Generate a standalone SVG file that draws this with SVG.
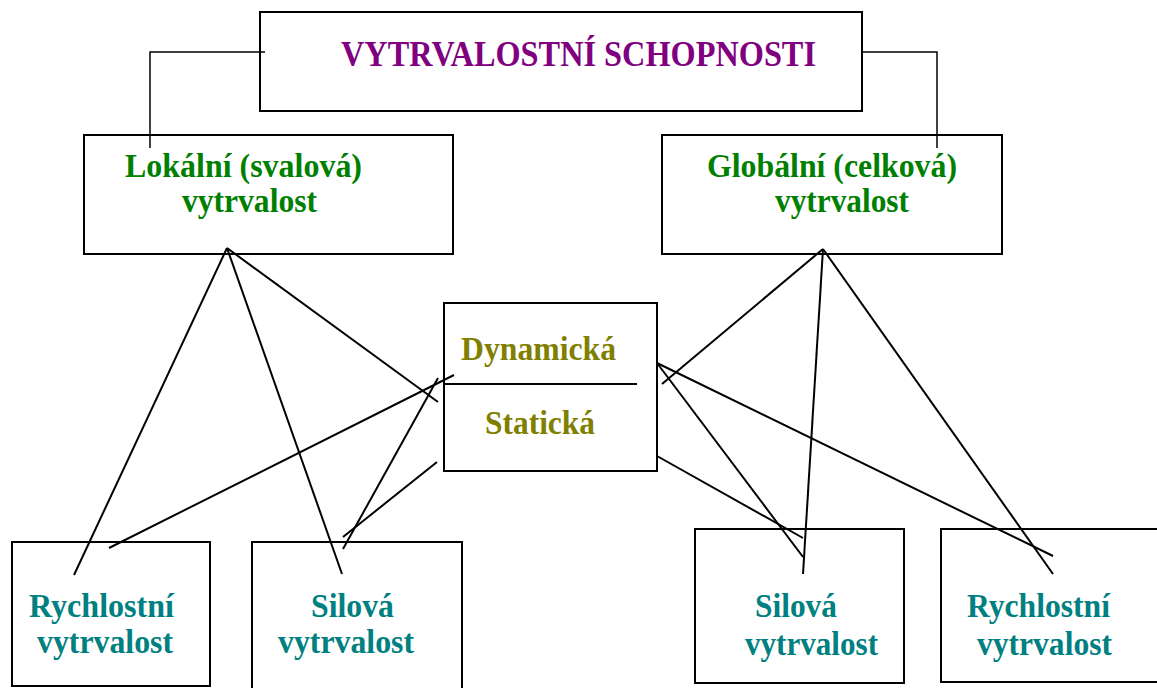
<svg xmlns="http://www.w3.org/2000/svg" width="1157" height="688" viewBox="0 0 1157 688">
<style>
.box{fill:#fff;stroke:#000;stroke-width:2}
.t{font-family:"Liberation Serif","Times New Roman",serif;font-weight:bold;font-size:34px}
.tt{font-size:35px}
.purple{fill:#800080}
.green{fill:#008000}
.olive{fill:#808000}
.teal{fill:#008080}
.ln{stroke:#000;stroke-width:2;fill:none}
.ln2{stroke:#000;stroke-width:1.5;fill:none}
</style>
<rect width="1157" height="688" fill="#fff"/>
<g id="title">
<rect class="box" x="260" y="12" width="602" height="99"/>
<text class="t tt purple" x="341" y="66" textLength="475" lengthAdjust="spacingAndGlyphs">VYTRVALOSTNÍ SCHOPNOSTI</text>
</g>
<g id="lokalni">
<rect class="box" x="84" y="135" width="369" height="119"/>
<text class="t green" x="125" y="177" textLength="237" lengthAdjust="spacingAndGlyphs">Lokální (svalová)</text>
<text class="t green" x="182" y="212" textLength="135" lengthAdjust="spacingAndGlyphs">vytrvalost</text>
</g>
<g id="globalni">
<rect class="box" x="662" y="135" width="340" height="119"/>
<text class="t green" x="707" y="177" textLength="250" lengthAdjust="spacingAndGlyphs">Globální (celková)</text>
<text class="t green" x="775" y="212" textLength="134" lengthAdjust="spacingAndGlyphs">vytrvalost</text>
</g>
<g id="dynstat">
<rect class="box" x="444" y="303" width="213" height="168"/>
<line class="ln" x1="444" y1="384" x2="637" y2="384"/>
<text class="t olive" x="461" y="360" textLength="155" lengthAdjust="spacingAndGlyphs">Dynamická</text>
<text class="t olive" x="485" y="434" textLength="110" lengthAdjust="spacingAndGlyphs">Statická</text>
</g>
<g id="rychlostni-l">
<rect class="box" x="12" y="542" width="198" height="144"/>
<text class="t teal" x="29" y="617" textLength="145" lengthAdjust="spacingAndGlyphs">Rychlostní</text>
<text class="t teal" x="37" y="653" textLength="136" lengthAdjust="spacingAndGlyphs">vytrvalost</text>
</g>
<g id="silova-l">
<rect class="box" x="252" y="542" width="210" height="150"/>
<text class="t teal" x="311" y="617" textLength="83" lengthAdjust="spacingAndGlyphs">Silová</text>
<text class="t teal" x="278" y="653" textLength="136" lengthAdjust="spacingAndGlyphs">vytrvalost</text>
</g>
<g id="silova-r">
<rect class="box" x="695" y="529" width="209" height="154"/>
<text class="t teal" x="755" y="617" textLength="82" lengthAdjust="spacingAndGlyphs">Silová</text>
<text class="t teal" x="745" y="655" textLength="133" lengthAdjust="spacingAndGlyphs">vytrvalost</text>
</g>
<g id="rychlostni-r">
<rect class="box" x="941" y="529" width="225" height="153"/>
<text class="t teal" x="967" y="617" textLength="143" lengthAdjust="spacingAndGlyphs">Rychlostní</text>
<text class="t teal" x="977" y="655" textLength="135" lengthAdjust="spacingAndGlyphs">vytrvalost</text>
</g>
<g id="connectors">
<polyline class="ln2" points="265,52 150,52 150,148"/>
<polyline class="ln2" points="862,52 937,52 937,148"/>
<line class="ln" x1="227" y1="248" x2="74" y2="575"/>
<line class="ln" x1="227" y1="248" x2="342" y2="574"/>
<line class="ln" x1="227" y1="248" x2="438" y2="402"/>
<line class="ln" x1="454" y1="375" x2="109" y2="548"/>
<line class="ln" x1="438" y1="378" x2="343" y2="549"/>
<line class="ln" x1="437" y1="462" x2="343" y2="537"/>
<line class="ln" x1="823" y1="249" x2="662" y2="384"/>
<line class="ln" x1="823" y1="249" x2="803" y2="574"/>
<line class="ln" x1="823" y1="249" x2="1053" y2="574"/>
<line class="ln" x1="657" y1="363" x2="803" y2="557"/>
<line class="ln" x1="657" y1="363" x2="1053" y2="556"/>
<line class="ln" x1="657" y1="456" x2="803" y2="538"/>
</g>
</svg>
